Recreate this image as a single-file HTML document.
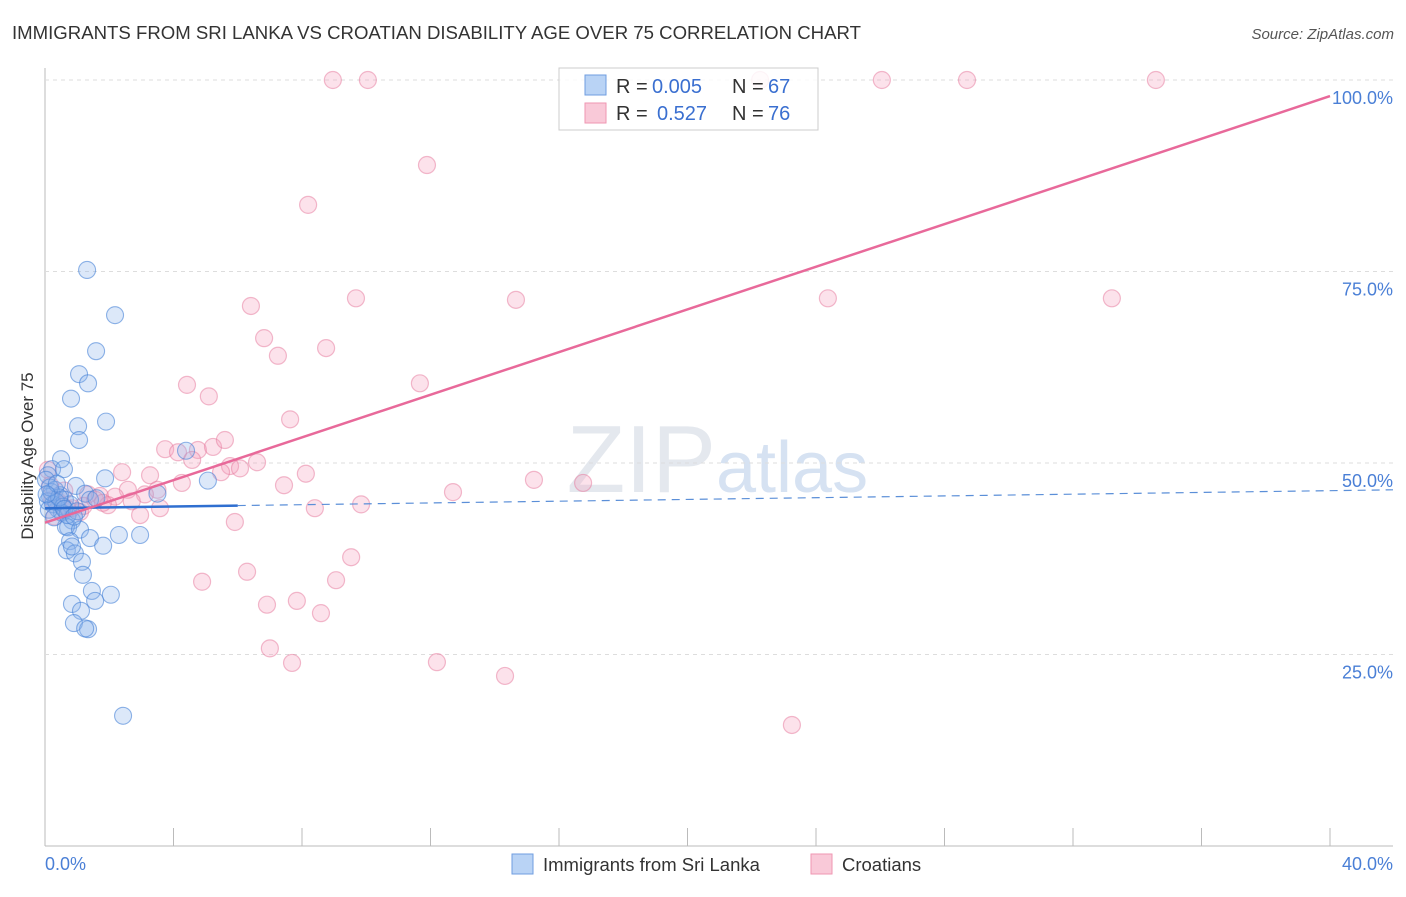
<!DOCTYPE html>
<html><head><meta charset="utf-8"><style>
body{margin:0;background:#fff;font-family:"Liberation Sans",sans-serif}
svg text{font-family:"Liberation Sans",sans-serif}
</style></head><body>
<svg id="chart" width="1406" height="892" xmlns="http://www.w3.org/2000/svg">
<text x="12" y="39" font-size="18.6" fill="#333">IMMIGRANTS FROM SRI LANKA VS CROATIAN DISABILITY AGE OVER 75 CORRELATION CHART</text>
<text x="1394" y="39" font-size="15" fill="#555" text-anchor="end" font-style="italic">Source: ZipAtlas.com</text>
<text transform="translate(33,456) rotate(-90)" font-size="17" fill="#333" text-anchor="middle">Disability Age Over 75</text>
<text x="716" y="492" font-size="96" fill="#e4e8ee" text-anchor="end" font-family="Liberation Serif">ZIP</text>
<text x="716" y="492" font-size="72" fill="#d6e2f2">atlas</text>
<g id="grid"></g><g id="pts"></g><g id="lines"></g>
<g>
<rect x="559" y="68" width="259" height="62" fill="#fff" fill-opacity="0.85" stroke="#ccc"/>
<rect x="585" y="75" width="21" height="20" fill="#b9d3f5" stroke="#6f9ee0"/>
<rect x="585" y="103" width="21" height="20" fill="#f9c9d8" stroke="#ef96b2"/>
<text x="616" y="93" font-size="20" fill="#333">R =</text>
<text x="652" y="93" font-size="20" fill="#3a6fd0">0.005</text>
<text x="732" y="93" font-size="20" fill="#333">N =</text>
<text x="768" y="93" font-size="20" fill="#3a6fd0">67</text>
<text x="616" y="120" font-size="20" fill="#333">R =</text>
<text x="657" y="120" font-size="20" fill="#3a6fd0">0.527</text>
<text x="732" y="120" font-size="20" fill="#333">N =</text>
<text x="768" y="120" font-size="20" fill="#3a6fd0">76</text>
</g>
<g>
<rect x="512" y="854" width="21" height="20" fill="#b9d3f5" stroke="#6f9ee0"/>
<text x="543" y="871" font-size="18.5" fill="#333">Immigrants from Sri Lanka</text>
<rect x="811" y="854" width="21" height="20" fill="#f9c9d8" stroke="#ef96b2"/>
<text x="842" y="871" font-size="18.5" fill="#333">Croatians</text>
</g>
</svg>
<script>
const blueX=[1.31,2.18,1.59,1.06,1.34,0.81,1.03,1.9,1.06,4.39,0.5,0.22,0.59,1.87,5.07,0.09,0.03,0.96,0.31,0.47,0.16,0.62,0.78,0.4,0.09,0.25,0.53,1.25,1.4,0.84,0.72,0.65,1.09,1.4,2.3,2.96,1.81,0.78,0.68,0.93,0.84,1.15,1.18,1.46,2.05,0.84,1.56,1.12,0.9,1.34,1.25,2.43,0.2,0.35,0.12,0.56,0.28,0.7,0.44,0.15,0.6,1.0,0.37,0.05,0.9,1.6,3.5];
const blueY=[75.2,69.3,64.6,61.6,60.4,58.4,54.8,55.4,53.0,51.6,50.5,49.2,49.2,48.0,47.7,48.4,47.8,47.0,46.5,45.8,45.6,45.2,44.6,44.0,45.0,44.6,43.5,46.0,45.2,42.5,41.6,41.7,41.3,40.2,40.6,40.6,39.2,39.8,38.6,38.2,39.1,37.1,35.4,33.3,32.8,31.6,32.0,30.7,29.1,28.3,28.4,17.0,46.2,44.9,43.9,44.3,42.9,43.2,45.5,46.8,44.0,43.7,47.3,45.9,43.0,45.4,46.0];
const pinkX=[8.96,10.05,22.26,26.05,28.7,34.58,11.89,8.19,9.68,14.66,24.37,33.21,6.41,6.82,7.25,8.75,11.67,4.42,5.1,7.63,3.74,4.14,4.76,5.23,5.6,4.58,5.76,5.48,6.07,6.6,2.4,3.27,8.12,4.26,7.44,15.22,16.75,12.7,2.58,3.5,3.11,1.71,2.18,1.34,1.56,0.53,0.22,0.84,1.09,1.96,2.96,3.58,8.4,9.84,5.91,9.53,6.29,9.06,4.89,6.91,7.84,8.59,7.0,7.69,12.2,14.32,23.25,0.09,0.16,0.4,0.7,1.2,1.8,2.7,0.3,0.6];
const pinkY=[100,100,100,100,100,100,88.9,83.7,71.5,71.3,71.5,71.5,70.5,66.3,64.0,65.0,60.4,60.2,58.7,55.7,51.8,51.4,51.7,52.1,53.0,50.4,49.6,48.8,49.3,50.1,48.8,48.4,48.6,47.4,47.1,47.8,47.4,46.2,46.5,46.5,45.9,45.7,45.6,45.9,45.2,44.5,45.2,44.1,43.6,44.5,43.2,44.1,44.1,44.6,42.3,37.7,35.8,34.7,34.5,31.5,32.0,30.4,25.8,23.9,24.0,22.2,15.8,49.1,47.1,45.0,44.0,44.4,44.8,45.0,43.0,46.4];
const yTicks=[25,50,75,100];
const pinkFit=[42.2,97.9];
const blueFit=[44.1,46.5];
const X=v=>45+v/40*1285, Y=v=>846-v*7.66;
const ns="http://www.w3.org/2000/svg";
function mk(p,t,a){const e=document.createElementNS(ns,t);for(const k in a)e.setAttribute(k,a[k]);document.getElementById(p).appendChild(e);return e;}
let ax=mk('grid','line',{x1:45,y1:68,x2:45,y2:846,stroke:'#bbb'});


let bx=mk('grid','line',{x1:45,y1:846,x2:1393,y2:846,stroke:'#bbb'});


for(let i=0;i<=10;i++){const t=mk('grid','line',{x1:X(i*4),y1:828,x2:X(i*4),y2:846,stroke:'#bbb'});

}
yTicks.forEach(v=>{const g=mk('grid','line',{x1:45,y1:Y(v),x2:1393,y2:Y(v),stroke:'#ddd','stroke-dasharray':'4,4'});


const t=mk('grid','text',{x:1393,y:Y(v)+24,'font-size':18,fill:'#4a7fd6','text-anchor':'end'});t.textContent=v.toFixed(1)+'%';

});
let l0=mk('grid','text',{x:45,y:870,'font-size':18,fill:'#4a7fd6'});l0.textContent='0.0%';


let l1=mk('grid','text',{x:1393,y:870,'font-size':18,fill:'#4a7fd6','text-anchor':'end'});l1.textContent='40.0%';


pinkX.forEach((x,i)=>{const c=mk('pts','circle',{cx:X(x),cy:Y(pinkY[i]),r:8.5,fill:'rgba(245,160,188,0.3)',stroke:'rgba(230,120,155,0.5)','stroke-width':1.2});

});
blueX.forEach((x,i)=>{const c=mk('pts','circle',{cx:X(x),cy:Y(blueY[i]),r:8.5,fill:'rgba(140,180,235,0.3)',stroke:'rgba(70,130,215,0.6)','stroke-width':1.1});

});
const bAt=x=>blueFit[0]+(blueFit[1]-blueFit[0])*x/42;
let bd=mk('lines','line',{x1:X(6),y1:Y(bAt(6)),x2:1393,y2:Y(bAt(42)),stroke:'#5b8fd8','stroke-width':1.2,'stroke-dasharray':'8,6'});


let bs=mk('lines','line',{x1:X(0),y1:Y(bAt(0)),x2:X(6),y2:Y(bAt(6)),stroke:'#2f6fd0','stroke-width':2.5});


let pl=mk('lines','line',{x1:X(0),y1:Y(pinkFit[0]),x2:X(40),y2:Y(pinkFit[1]),stroke:'#e8699a','stroke-width':2.5});


</script>
</body></html>
